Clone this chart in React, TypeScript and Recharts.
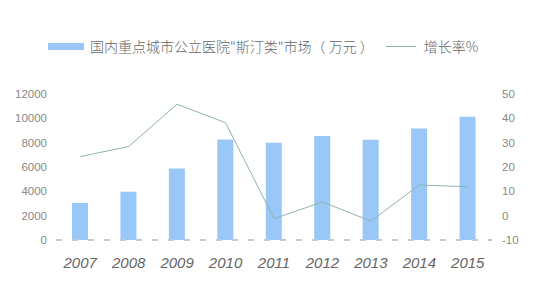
import React from "react";
import {
  ComposedChart,
  Bar,
  Line,
  XAxis,
  YAxis,
  Legend,
} from "recharts";

const years = ["2007", "2008", "2009", "2010", "2011", "2012", "2013", "2014", "2015"];
const market = [3050, 3970, 5880, 8260, 8000, 8550, 8230, 9160, 10120];
const growth = [24.3, 28.4, 45.8, 38.2, -1.2, 5.6, -2.2, 12.6, 11.9];

const leftTicks = [0, 2000, 4000, 6000, 8000, 10000, 12000];
const rightTicks = [-10, 0, 10, 20, 30, 40, 50];

const barName = "国内重点城市公立医院\"斯汀类\"市场（ 万元 ）";
const lineName = "增长率%";

const data = years.map((y, i) => ({ year: y, market: market[i], growth: growth[i] }));

const FONT = "'Liberation Sans', Arial, sans-serif";

const LegendContent = () => (
  <div
    style={{
      display: "flex",
      alignItems: "center",
      fontFamily: "'Noto Sans CJK SC', sans-serif",
      fontSize: 14,
      fontWeight: 300,
      color: "#666",
      paddingLeft: 48,
    }}
  >
    <span style={{ width: 36, height: 7, background: "#99C8F8", display: "inline-block", marginRight: 6 }} />
    <span>{barName}</span>
    <span style={{ width: 30, height: 1, background: "#8FB3AE", display: "inline-block", margin: "0 8px 0 12px" }} />
    <span>{lineName}</span>
  </div>
);

export default function App() {
  return (
    <div style={{ position: "absolute", left: 0, top: 0, width: 537, height: 296, background: "#fff" }}>
      <ComposedChart
        width={537}
        height={296}
        data={data}
        margin={{ top: 74, right: 0, bottom: 0, left: 0 }}
      >
        <Legend
          verticalAlign="top"
          content={<LegendContent />}
          wrapperStyle={{ top: 36, left: 0, width: 537 }}
        />
        <XAxis
          dataKey="year"
          height={56}
          tickSize={0}
          tickMargin={17}
          axisLine={{ stroke: "#b9cbd8", strokeWidth: 2, strokeDasharray: "6 10" }}
          tick={{ fontSize: 15, fontStyle: "italic", fill: "#666", fontFamily: FONT }}
        />
        <YAxis
          yAxisId="left"
          width={56}
          domain={[0, 12000]}
          ticks={leftTicks}
          tickSize={0}
          tickMargin={9}
          axisLine={false}
          tick={{ fontSize: 11.5, fill: "#888", fontFamily: FONT }}
        />
        <YAxis
          yAxisId="right"
          orientation="right"
          width={45}
          domain={[-10, 50]}
          ticks={rightTicks}
          tickSize={0}
          tickMargin={10}
          axisLine={false}
          tick={{ fontSize: 11.5, fill: "#888", fontFamily: FONT }}
        />
        <Bar
          yAxisId="left"
          dataKey="market"
          name={barName}
          fill="#99C8F8"
          barSize={16}
          isAnimationActive={false}
        />
        <Line
          yAxisId="right"
          dataKey="growth"
          name={lineName}
          type="linear"
          stroke="#8FB3AE"
          strokeWidth={1}
          dot={false}
          isAnimationActive={false}
        />
      </ComposedChart>
    </div>
  );
}
